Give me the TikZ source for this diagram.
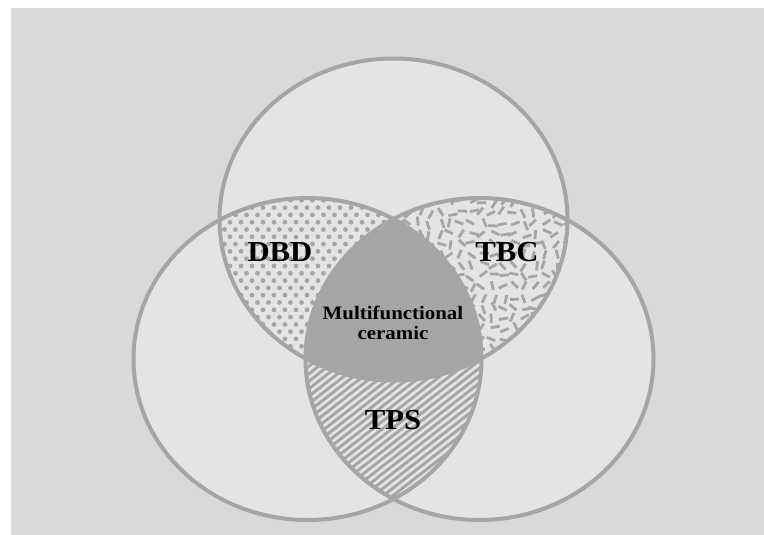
\documentclass[tikz,border=0pt]{standalone}
\usepackage{fontspec}
\setmainfont{Liberation Serif}
\definecolor{bgc}{HTML}{D9D9D9}
\definecolor{lightc}{HTML}{E4E4E4}
\definecolor{linec}{HTML}{A5A5A5}
\tikzset{
  ring/.style={draw=linec, line width=4pt},
  dotmark/.style={fill=linec},
  rodmark/.style={draw=linec, line width=2.8pt},
  hatchline/.style={draw=linec, line width=2.9pt},
  biglabel/.style={font=\bfseries\fontsize{29}{30}\selectfont, text=black, xscale=1.06, inner sep=0pt},
  midlabel/.style={font=\bfseries\fontsize{19}{19.5}\selectfont, text=black, xscale=1.1, align=center, inner sep=0pt},
}
\begin{document}
\begin{tikzpicture}[x=1pt,y=-1pt]
\useasboundingbox (0,0) rectangle (764,535);
\fill[bgc] (11,8) rectangle (764,535);
\coordinate (T) at (393.5,219.5);
\coordinate (L) at (307.5,359);
\coordinate (R) at (479.5,359);
% light fills
\foreach \c in {T,L,R} \fill[lightc] (\c) ellipse [x radius=174pt, y radius=161pt];
% DBD dots: top & left
\begin{scope}
  \clip (T) ellipse [x radius=174pt, y radius=161pt];
  \clip (L) ellipse [x radius=174pt, y radius=161pt];
  \foreach \j in {0,...,26} {
    \pgfmathsetmacro\yy{193+\j*7.3}
    \pgfmathsetmacro\off{mod(\j,2)*5.5}
    \foreach \i in {0,...,18} {
      \fill[dotmark] ({208+\off+\i*11},\yy) circle [radius=2.4pt];
    }
  }
\end{scope}
% TBC rods: top & right
\begin{scope}
  \clip (T) ellipse [x radius=174pt, y radius=161pt];
  \clip (R) ellipse [x radius=174pt, y radius=161pt];
  \pgfmathsetseed{4242}
  \foreach \i in {0,...,17} {
    \foreach \j in {0,...,18} {
      \pgfmathsetmacro\xx{388+\i*10.5+rand*2.5}
      \pgfmathsetmacro\yy{192+\j*10.5+rand*2.5}
      \pgfmathsetmacro\aa{rnd*180}
      \draw[rodmark] (\xx,\yy) ++(\aa:4.6pt) -- ++(\aa+180:9.2pt);
    }
  }
\end{scope}
% TPS hatch: left & right
\begin{scope}
  \clip (L) ellipse [x radius=174pt, y radius=161pt];
  \clip (R) ellipse [x radius=174pt, y radius=161pt];
  \foreach \c in {585,592.5,...,905} {
    \draw[hatchline] (295,{\c-0.781*295}) -- (495,{\c-0.781*495});
  }
\end{scope}
% centre
\begin{scope}
  \clip (T) ellipse [x radius=174pt, y radius=161pt];
  \clip (L) ellipse [x radius=174pt, y radius=161pt];
  \fill[linec] (R) ellipse [x radius=174pt, y radius=161pt];
\end{scope}
% outlines
\foreach \c in {T,L,R} \draw[ring] (\c) ellipse [x radius=174pt, y radius=161pt];
% labels
\node[biglabel] (dbd) at (280,252) {DBD};
\node[biglabel] (tbc) at (507,252) {TBC};
\node[biglabel] (tps) at (393,420) {TPS};
\node[midlabel] (mc) at (393,323) {Multifunctional\\ceramic};
\end{tikzpicture}
\end{document}
